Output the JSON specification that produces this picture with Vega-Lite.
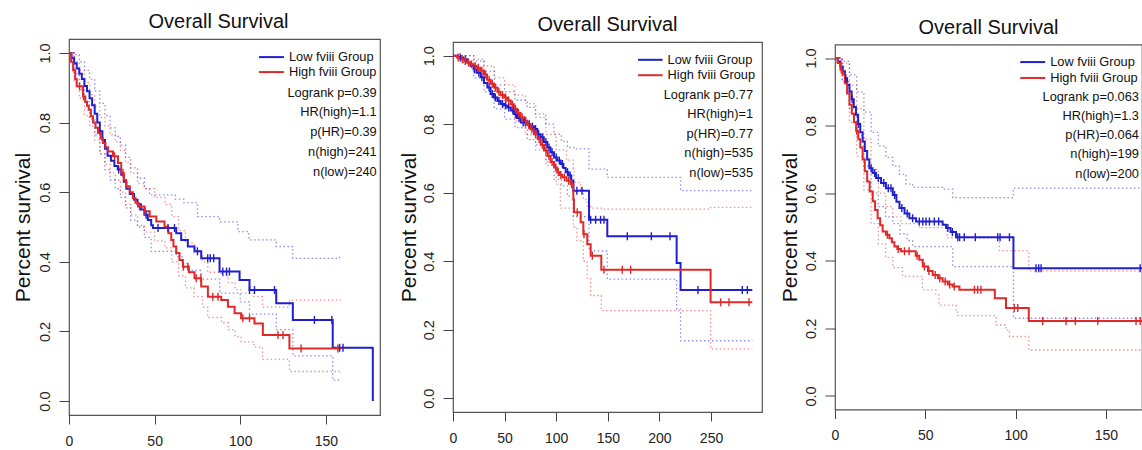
{
"$schema": "https://vega.github.io/schema/vega-lite/v6.json",
"background": "white",
"padding": {"left": 11, "top": 11, "right": 0, "bottom": 0},
"autosize": {"type": "pad"},
"datasets": {
"km": [
{"panel":"A","group":"Low","t":0,"s":1},{"panel":"A","group":"Low","t":1.5,"s":0.985},{"panel":"A","group":"Low","t":3,"s":0.97},{"panel":"A","group":"Low","t":4.5,"s":0.955},{"panel":"A","group":"Low","t":6,"s":0.94},{"panel":"A","group":"Low","t":7.5,"s":0.925},{"panel":"A","group":"Low","t":9,"s":0.905},{"panel":"A","group":"Low","t":10.5,"s":0.89},{"panel":"A","group":"Low","t":12,"s":0.87},{"panel":"A","group":"Low","t":13.5,"s":0.85},{"panel":"A","group":"Low","t":15,"s":0.825},{"panel":"A","group":"Low","t":16.5,"s":0.8},{"panel":"A","group":"Low","t":18,"s":0.775},{"panel":"A","group":"Low","t":19.5,"s":0.75},{"panel":"A","group":"Low","t":21,"s":0.725},{"panel":"A","group":"Low","t":22.5,"s":0.705},{"panel":"A","group":"Low","t":24.5,"s":0.69},{"panel":"A","group":"Low","t":26.5,"s":0.675},{"panel":"A","group":"Low","t":28.5,"s":0.665},{"panel":"A","group":"Low","t":30.5,"s":0.65},{"panel":"A","group":"Low","t":32,"s":0.63},{"panel":"A","group":"Low","t":33.5,"s":0.61},{"panel":"A","group":"Low","t":35.5,"s":0.595},{"panel":"A","group":"Low","t":38,"s":0.578},{"panel":"A","group":"Low","t":40,"s":0.565},{"panel":"A","group":"Low","t":42,"s":0.55},{"panel":"A","group":"Low","t":44,"s":0.535},{"panel":"A","group":"Low","t":46,"s":0.52},{"panel":"A","group":"Low","t":48,"s":0.505},{"panel":"A","group":"Low","t":49,"s":0.497},{"panel":"A","group":"Low","t":62.6,"s":0.482},{"panel":"A","group":"Low","t":65.5,"s":0.463},{"panel":"A","group":"Low","t":69.4,"s":0.444},{"panel":"A","group":"Low","t":73.3,"s":0.43},{"panel":"A","group":"Low","t":77.2,"s":0.41},{"panel":"A","group":"Low","t":87.9,"s":0.372},{"panel":"A","group":"Low","t":99.6,"s":0.348},{"panel":"A","group":"Low","t":105.4,"s":0.319},{"panel":"A","group":"Low","t":121,"s":0.281},{"panel":"A","group":"Low","t":130.7,"s":0.233},{"panel":"A","group":"Low","t":154,"s":0.153},{"panel":"A","group":"Low","t":177.4,"s":0},
{"panel":"A","group":"High","t":0,"s":1},{"panel":"A","group":"High","t":1.2,"s":0.975},{"panel":"A","group":"High","t":2.4,"s":0.95},{"panel":"A","group":"High","t":3.6,"s":0.925},{"panel":"A","group":"High","t":4.5,"s":0.904},{"panel":"A","group":"High","t":8.2,"s":0.875},{"panel":"A","group":"High","t":9.5,"s":0.86},{"panel":"A","group":"High","t":10.5,"s":0.848},{"panel":"A","group":"High","t":11.5,"s":0.837},{"panel":"A","group":"High","t":12.8,"s":0.818},{"panel":"A","group":"High","t":14,"s":0.8},{"panel":"A","group":"High","t":15.5,"s":0.785},{"panel":"A","group":"High","t":16.9,"s":0.77},{"panel":"A","group":"High","t":18.4,"s":0.755},{"panel":"A","group":"High","t":19.8,"s":0.741},{"panel":"A","group":"High","t":21.3,"s":0.729},{"panel":"A","group":"High","t":22.8,"s":0.717},{"panel":"A","group":"High","t":25.7,"s":0.703},{"panel":"A","group":"High","t":28.6,"s":0.684},{"panel":"A","group":"High","t":30.5,"s":0.655},{"panel":"A","group":"High","t":32,"s":0.635},{"panel":"A","group":"High","t":33.4,"s":0.617},{"panel":"A","group":"High","t":35.5,"s":0.6},{"panel":"A","group":"High","t":37.3,"s":0.583},{"panel":"A","group":"High","t":38.8,"s":0.57},{"panel":"A","group":"High","t":40.3,"s":0.559},{"panel":"A","group":"High","t":44.1,"s":0.545},{"panel":"A","group":"High","t":47.1,"s":0.53},{"panel":"A","group":"High","t":51,"s":0.516},{"panel":"A","group":"High","t":55.8,"s":0.501},{"panel":"A","group":"High","t":58,"s":0.482},{"panel":"A","group":"High","t":59.7,"s":0.463},{"panel":"A","group":"High","t":61,"s":0.444},{"panel":"A","group":"High","t":62.6,"s":0.425},{"panel":"A","group":"High","t":64.5,"s":0.405},{"panel":"A","group":"High","t":66.5,"s":0.386},{"panel":"A","group":"High","t":70,"s":0.37},{"panel":"A","group":"High","t":73.3,"s":0.353},{"panel":"A","group":"High","t":77.2,"s":0.329},{"panel":"A","group":"High","t":81.1,"s":0.3},{"panel":"A","group":"High","t":88.9,"s":0.29},{"panel":"A","group":"High","t":92.8,"s":0.271},{"panel":"A","group":"High","t":96.7,"s":0.252},{"panel":"A","group":"High","t":100.5,"s":0.238},{"panel":"A","group":"High","t":108.3,"s":0.223},{"panel":"A","group":"High","t":113.2,"s":0.19},{"panel":"A","group":"High","t":128.7,"s":0.151},{"panel":"A","group":"High","t":158.9,"s":0.151},
{"panel":"B","group":"Low","t":0,"s":1},{"panel":"B","group":"Low","t":5,"s":0.995},{"panel":"B","group":"Low","t":10,"s":0.99},{"panel":"B","group":"Low","t":14,"s":0.98},{"panel":"B","group":"Low","t":17,"s":0.97},{"panel":"B","group":"Low","t":20,"s":0.96},{"panel":"B","group":"Low","t":23,"s":0.95},{"panel":"B","group":"Low","t":26.8,"s":0.937},{"panel":"B","group":"Low","t":30,"s":0.92},{"panel":"B","group":"Low","t":33.3,"s":0.907},{"panel":"B","group":"Low","t":36.4,"s":0.888},{"panel":"B","group":"Low","t":39.7,"s":0.878},{"panel":"B","group":"Low","t":43,"s":0.868},{"panel":"B","group":"Low","t":46.2,"s":0.859},{"panel":"B","group":"Low","t":49.5,"s":0.855},{"panel":"B","group":"Low","t":52.6,"s":0.849},{"panel":"B","group":"Low","t":56,"s":0.84},{"panel":"B","group":"Low","t":59.1,"s":0.83},{"panel":"B","group":"Low","t":62,"s":0.818},{"panel":"B","group":"Low","t":65.6,"s":0.805},{"panel":"B","group":"Low","t":72,"s":0.8},{"panel":"B","group":"Low","t":75,"s":0.793},{"panel":"B","group":"Low","t":78.5,"s":0.786},{"panel":"B","group":"Low","t":81.7,"s":0.771},{"panel":"B","group":"Low","t":85,"s":0.762},{"panel":"B","group":"Low","t":88,"s":0.748},{"panel":"B","group":"Low","t":91.4,"s":0.732},{"panel":"B","group":"Low","t":94.5,"s":0.718},{"panel":"B","group":"Low","t":97.9,"s":0.703},{"panel":"B","group":"Low","t":101,"s":0.694},{"panel":"B","group":"Low","t":104.3,"s":0.684},{"panel":"B","group":"Low","t":107,"s":0.672},{"panel":"B","group":"Low","t":109.2,"s":0.66},{"panel":"B","group":"Low","t":112,"s":0.65},{"panel":"B","group":"Low","t":114.6,"s":0.635},{"panel":"B","group":"Low","t":116.6,"s":0.606},{"panel":"B","group":"Low","t":131.8,"s":0.521},{"panel":"B","group":"Low","t":149.5,"s":0.473},{"panel":"B","group":"Low","t":216.7,"s":0.395},{"panel":"B","group":"Low","t":220.5,"s":0.316},{"panel":"B","group":"Low","t":290,"s":0.316},
{"panel":"B","group":"High","t":0,"s":1},{"panel":"B","group":"High","t":4,"s":0.995},{"panel":"B","group":"High","t":8,"s":0.99},{"panel":"B","group":"High","t":11,"s":0.985},{"panel":"B","group":"High","t":13.9,"s":0.98},{"panel":"B","group":"High","t":17,"s":0.975},{"panel":"B","group":"High","t":20,"s":0.97},{"panel":"B","group":"High","t":23,"s":0.965},{"panel":"B","group":"High","t":26.7,"s":0.956},{"panel":"B","group":"High","t":30,"s":0.945},{"panel":"B","group":"High","t":33,"s":0.93},{"panel":"B","group":"High","t":36.5,"s":0.918},{"panel":"B","group":"High","t":39.7,"s":0.907},{"panel":"B","group":"High","t":43,"s":0.895},{"panel":"B","group":"High","t":46,"s":0.885},{"panel":"B","group":"High","t":49.5,"s":0.878},{"panel":"B","group":"High","t":52.6,"s":0.869},{"panel":"B","group":"High","t":56,"s":0.858},{"panel":"B","group":"High","t":59,"s":0.845},{"panel":"B","group":"High","t":62,"s":0.833},{"panel":"B","group":"High","t":65.5,"s":0.82},{"panel":"B","group":"High","t":69,"s":0.81},{"panel":"B","group":"High","t":72,"s":0.797},{"panel":"B","group":"High","t":75,"s":0.785},{"panel":"B","group":"High","t":78.5,"s":0.771},{"panel":"B","group":"High","t":82,"s":0.757},{"panel":"B","group":"High","t":85,"s":0.74},{"panel":"B","group":"High","t":88.2,"s":0.723},{"panel":"B","group":"High","t":91.5,"s":0.707},{"panel":"B","group":"High","t":94.5,"s":0.69},{"panel":"B","group":"High","t":97.9,"s":0.674},{"panel":"B","group":"High","t":101,"s":0.66},{"panel":"B","group":"High","t":103.5,"s":0.652},{"panel":"B","group":"High","t":105.9,"s":0.645},{"panel":"B","group":"High","t":110,"s":0.635},{"panel":"B","group":"High","t":114,"s":0.625},{"panel":"B","group":"High","t":116.6,"s":0.58},{"panel":"B","group":"High","t":117.2,"s":0.543},{"panel":"B","group":"High","t":123.7,"s":0.514},{"panel":"B","group":"High","t":126.3,"s":0.479},{"panel":"B","group":"High","t":130.1,"s":0.45},{"panel":"B","group":"High","t":133.4,"s":0.416},{"panel":"B","group":"High","t":143.7,"s":0.375},{"panel":"B","group":"High","t":249.6,"s":0.28},{"panel":"B","group":"High","t":290,"s":0.28},
{"panel":"C","group":"Low","t":0,"s":1},{"panel":"C","group":"Low","t":1.5,"s":0.99},{"panel":"C","group":"Low","t":3,"s":0.975},{"panel":"C","group":"Low","t":4.3,"s":0.961},{"panel":"C","group":"Low","t":5.5,"s":0.94},{"panel":"C","group":"Low","t":6.7,"s":0.92},{"panel":"C","group":"Low","t":8,"s":0.901},{"panel":"C","group":"Low","t":9.2,"s":0.878},{"panel":"C","group":"Low","t":10.4,"s":0.855},{"panel":"C","group":"Low","t":11.6,"s":0.832},{"panel":"C","group":"Low","t":12.8,"s":0.805},{"panel":"C","group":"Low","t":14,"s":0.78},{"panel":"C","group":"Low","t":15.3,"s":0.753},{"panel":"C","group":"Low","t":16.5,"s":0.725},{"panel":"C","group":"Low","t":17.8,"s":0.7},{"panel":"C","group":"Low","t":19,"s":0.674},{"panel":"C","group":"Low","t":20.8,"s":0.66},{"panel":"C","group":"Low","t":22.7,"s":0.645},{"panel":"C","group":"Low","t":25.5,"s":0.63},{"panel":"C","group":"Low","t":28.2,"s":0.615},{"panel":"C","group":"Low","t":32,"s":0.595},{"panel":"C","group":"Low","t":34,"s":0.575},{"panel":"C","group":"Low","t":35.7,"s":0.556},{"panel":"C","group":"Low","t":38.5,"s":0.54},{"panel":"C","group":"Low","t":41.2,"s":0.526},{"panel":"C","group":"Low","t":44.9,"s":0.516},{"panel":"C","group":"Low","t":59.6,"s":0.507},{"panel":"C","group":"Low","t":61.5,"s":0.497},{"panel":"C","group":"Low","t":64,"s":0.485},{"panel":"C","group":"Low","t":67,"s":0.47},{"panel":"C","group":"Low","t":98.8,"s":0.378},{"panel":"C","group":"Low","t":172,"s":0.378},
{"panel":"C","group":"High","t":0,"s":1},{"panel":"C","group":"High","t":1.5,"s":0.985},{"panel":"C","group":"High","t":3,"s":0.965},{"panel":"C","group":"High","t":4.3,"s":0.951},{"panel":"C","group":"High","t":5.5,"s":0.925},{"panel":"C","group":"High","t":6.7,"s":0.895},{"panel":"C","group":"High","t":8,"s":0.862},{"panel":"C","group":"High","t":9.3,"s":0.835},{"panel":"C","group":"High","t":10.5,"s":0.81},{"panel":"C","group":"High","t":11.7,"s":0.785},{"panel":"C","group":"High","t":12.9,"s":0.76},{"panel":"C","group":"High","t":14,"s":0.735},{"panel":"C","group":"High","t":15.3,"s":0.7},{"panel":"C","group":"High","t":16.5,"s":0.665},{"panel":"C","group":"High","t":17.8,"s":0.635},{"panel":"C","group":"High","t":19.2,"s":0.605},{"panel":"C","group":"High","t":20.9,"s":0.576},{"panel":"C","group":"High","t":22.2,"s":0.55},{"panel":"C","group":"High","t":23.6,"s":0.526},{"panel":"C","group":"High","t":25,"s":0.505},{"panel":"C","group":"High","t":26.4,"s":0.487},{"panel":"C","group":"High","t":28.2,"s":0.477},{"panel":"C","group":"High","t":30.1,"s":0.467},{"panel":"C","group":"High","t":31.5,"s":0.455},{"panel":"C","group":"High","t":32.9,"s":0.442},{"panel":"C","group":"High","t":34.5,"s":0.435},{"panel":"C","group":"High","t":36.5,"s":0.428},{"panel":"C","group":"High","t":44.7,"s":0.415},{"panel":"C","group":"High","t":46.7,"s":0.403},{"panel":"C","group":"High","t":48.6,"s":0.383},{"panel":"C","group":"High","t":51.5,"s":0.37},{"panel":"C","group":"High","t":54.1,"s":0.358},{"panel":"C","group":"High","t":57,"s":0.348},{"panel":"C","group":"High","t":59.6,"s":0.339},{"panel":"C","group":"High","t":62.5,"s":0.33},{"panel":"C","group":"High","t":65.2,"s":0.324},{"panel":"C","group":"High","t":68.9,"s":0.314},{"panel":"C","group":"High","t":88.5,"s":0.289},{"panel":"C","group":"High","t":94.7,"s":0.26},{"panel":"C","group":"High","t":107.3,"s":0.222},{"panel":"C","group":"High","t":172,"s":0.222}
],
"ci": [
{"panel":"A","group":"Low","bound":"upper","t":0,"s":1},{"panel":"A","group":"Low","bound":"upper","t":3,"s":0.995},{"panel":"A","group":"Low","bound":"upper","t":6,"s":0.975},{"panel":"A","group":"Low","bound":"upper","t":9,"s":0.95},{"panel":"A","group":"Low","bound":"upper","t":12,"s":0.925},{"panel":"A","group":"Low","bound":"upper","t":15,"s":0.89},{"panel":"A","group":"Low","bound":"upper","t":18,"s":0.855},{"panel":"A","group":"Low","bound":"upper","t":21,"s":0.82},{"panel":"A","group":"Low","bound":"upper","t":24,"s":0.785},{"panel":"A","group":"Low","bound":"upper","t":27,"s":0.76},{"panel":"A","group":"Low","bound":"upper","t":30,"s":0.735},{"panel":"A","group":"Low","bound":"upper","t":33,"s":0.7},{"panel":"A","group":"Low","bound":"upper","t":36,"s":0.67},{"panel":"A","group":"Low","bound":"upper","t":40,"s":0.64},{"panel":"A","group":"Low","bound":"upper","t":44,"s":0.61},{"panel":"A","group":"Low","bound":"upper","t":47,"s":0.592},{"panel":"A","group":"Low","bound":"upper","t":62,"s":0.58},{"panel":"A","group":"Low","bound":"upper","t":67,"s":0.57},{"panel":"A","group":"Low","bound":"upper","t":75,"s":0.53},{"panel":"A","group":"Low","bound":"upper","t":88,"s":0.515},{"panel":"A","group":"Low","bound":"upper","t":98.6,"s":0.487},{"panel":"A","group":"Low","bound":"upper","t":105,"s":0.463},{"panel":"A","group":"Low","bound":"upper","t":121,"s":0.444},{"panel":"A","group":"Low","bound":"upper","t":130.7,"s":0.41},{"panel":"A","group":"Low","bound":"upper","t":158,"s":0.415},
{"panel":"A","group":"Low","bound":"lower","t":0,"s":1},{"panel":"A","group":"Low","bound":"lower","t":3,"s":0.94},{"panel":"A","group":"Low","bound":"lower","t":6,"s":0.895},{"panel":"A","group":"Low","bound":"lower","t":9,"s":0.86},{"panel":"A","group":"Low","bound":"lower","t":12,"s":0.81},{"panel":"A","group":"Low","bound":"lower","t":15,"s":0.765},{"panel":"A","group":"Low","bound":"lower","t":18,"s":0.71},{"panel":"A","group":"Low","bound":"lower","t":21,"s":0.665},{"panel":"A","group":"Low","bound":"lower","t":24,"s":0.635},{"panel":"A","group":"Low","bound":"lower","t":27,"s":0.61},{"panel":"A","group":"Low","bound":"lower","t":30,"s":0.585},{"panel":"A","group":"Low","bound":"lower","t":33,"s":0.555},{"panel":"A","group":"Low","bound":"lower","t":36,"s":0.52},{"panel":"A","group":"Low","bound":"lower","t":40,"s":0.5},{"panel":"A","group":"Low","bound":"lower","t":44,"s":0.47},{"panel":"A","group":"Low","bound":"lower","t":48,"s":0.43},{"panel":"A","group":"Low","bound":"lower","t":62.6,"s":0.415},{"panel":"A","group":"Low","bound":"lower","t":66,"s":0.395},{"panel":"A","group":"Low","bound":"lower","t":70,"s":0.375},{"panel":"A","group":"Low","bound":"lower","t":77,"s":0.35},{"panel":"A","group":"Low","bound":"lower","t":88,"s":0.31},{"panel":"A","group":"Low","bound":"lower","t":100,"s":0.285},{"panel":"A","group":"Low","bound":"lower","t":105.4,"s":0.25},{"panel":"A","group":"Low","bound":"lower","t":121,"s":0.205},{"panel":"A","group":"Low","bound":"lower","t":130.7,"s":0.13},{"panel":"A","group":"Low","bound":"lower","t":154,"s":0.06},{"panel":"A","group":"Low","bound":"lower","t":158,"s":0.06},
{"panel":"A","group":"High","bound":"upper","t":0,"s":1},{"panel":"A","group":"High","bound":"upper","t":3,"s":0.975},{"panel":"A","group":"High","bound":"upper","t":6,"s":0.95},{"panel":"A","group":"High","bound":"upper","t":9,"s":0.915},{"panel":"A","group":"High","bound":"upper","t":12,"s":0.88},{"panel":"A","group":"High","bound":"upper","t":15,"s":0.845},{"panel":"A","group":"High","bound":"upper","t":18,"s":0.815},{"panel":"A","group":"High","bound":"upper","t":21,"s":0.79},{"panel":"A","group":"High","bound":"upper","t":24,"s":0.765},{"panel":"A","group":"High","bound":"upper","t":27,"s":0.745},{"panel":"A","group":"High","bound":"upper","t":30,"s":0.72},{"panel":"A","group":"High","bound":"upper","t":33,"s":0.685},{"panel":"A","group":"High","bound":"upper","t":36,"s":0.655},{"panel":"A","group":"High","bound":"upper","t":40,"s":0.625},{"panel":"A","group":"High","bound":"upper","t":44,"s":0.61},{"panel":"A","group":"High","bound":"upper","t":50,"s":0.585},{"panel":"A","group":"High","bound":"upper","t":56,"s":0.565},{"panel":"A","group":"High","bound":"upper","t":60,"s":0.53},{"panel":"A","group":"High","bound":"upper","t":64,"s":0.49},{"panel":"A","group":"High","bound":"upper","t":68,"s":0.455},{"panel":"A","group":"High","bound":"upper","t":73,"s":0.425},{"panel":"A","group":"High","bound":"upper","t":78,"s":0.4},{"panel":"A","group":"High","bound":"upper","t":81,"s":0.37},{"panel":"A","group":"High","bound":"upper","t":89,"s":0.36},{"panel":"A","group":"High","bound":"upper","t":93,"s":0.34},{"panel":"A","group":"High","bound":"upper","t":97,"s":0.32},{"panel":"A","group":"High","bound":"upper","t":100.5,"s":0.31},{"panel":"A","group":"High","bound":"upper","t":108,"s":0.3},{"panel":"A","group":"High","bound":"upper","t":113,"s":0.27},{"panel":"A","group":"High","bound":"upper","t":128.7,"s":0.29},{"panel":"A","group":"High","bound":"upper","t":158.9,"s":0.29},
{"panel":"A","group":"High","bound":"lower","t":0,"s":1},{"panel":"A","group":"High","bound":"lower","t":3,"s":0.915},{"panel":"A","group":"High","bound":"lower","t":6,"s":0.87},{"panel":"A","group":"High","bound":"lower","t":9,"s":0.82},{"panel":"A","group":"High","bound":"lower","t":12,"s":0.79},{"panel":"A","group":"High","bound":"lower","t":15,"s":0.75},{"panel":"A","group":"High","bound":"lower","t":18,"s":0.71},{"panel":"A","group":"High","bound":"lower","t":21,"s":0.68},{"panel":"A","group":"High","bound":"lower","t":24,"s":0.655},{"panel":"A","group":"High","bound":"lower","t":27,"s":0.635},{"panel":"A","group":"High","bound":"lower","t":30,"s":0.6},{"panel":"A","group":"High","bound":"lower","t":33,"s":0.565},{"panel":"A","group":"High","bound":"lower","t":36,"s":0.535},{"panel":"A","group":"High","bound":"lower","t":40,"s":0.505},{"panel":"A","group":"High","bound":"lower","t":44,"s":0.485},{"panel":"A","group":"High","bound":"lower","t":50,"s":0.46},{"panel":"A","group":"High","bound":"lower","t":56,"s":0.44},{"panel":"A","group":"High","bound":"lower","t":60,"s":0.4},{"panel":"A","group":"High","bound":"lower","t":64,"s":0.36},{"panel":"A","group":"High","bound":"lower","t":68,"s":0.325},{"panel":"A","group":"High","bound":"lower","t":73,"s":0.3},{"panel":"A","group":"High","bound":"lower","t":78,"s":0.27},{"panel":"A","group":"High","bound":"lower","t":81,"s":0.24},{"panel":"A","group":"High","bound":"lower","t":89,"s":0.225},{"panel":"A","group":"High","bound":"lower","t":93,"s":0.205},{"panel":"A","group":"High","bound":"lower","t":97,"s":0.185},{"panel":"A","group":"High","bound":"lower","t":100.5,"s":0.17},{"panel":"A","group":"High","bound":"lower","t":108,"s":0.155},{"panel":"A","group":"High","bound":"lower","t":113,"s":0.12},{"panel":"A","group":"High","bound":"lower","t":128.7,"s":0.085},{"panel":"A","group":"High","bound":"lower","t":158.9,"s":0.08},
{"panel":"B","group":"Low","bound":"upper","t":0,"s":1},{"panel":"B","group":"Low","bound":"upper","t":10,"s":1},{"panel":"B","group":"Low","bound":"upper","t":20,"s":0.985},{"panel":"B","group":"Low","bound":"upper","t":30,"s":0.955},{"panel":"B","group":"Low","bound":"upper","t":40,"s":0.915},{"panel":"B","group":"Low","bound":"upper","t":50,"s":0.895},{"panel":"B","group":"Low","bound":"upper","t":60,"s":0.87},{"panel":"B","group":"Low","bound":"upper","t":72,"s":0.849},{"panel":"B","group":"Low","bound":"upper","t":80,"s":0.83},{"panel":"B","group":"Low","bound":"upper","t":90,"s":0.8},{"panel":"B","group":"Low","bound":"upper","t":97.9,"s":0.771},{"panel":"B","group":"Low","bound":"upper","t":105,"s":0.75},{"panel":"B","group":"Low","bound":"upper","t":110.8,"s":0.732},{"panel":"B","group":"Low","bound":"upper","t":117,"s":0.728},{"panel":"B","group":"Low","bound":"upper","t":131.8,"s":0.669},{"panel":"B","group":"Low","bound":"upper","t":149.5,"s":0.645},{"panel":"B","group":"Low","bound":"upper","t":216.7,"s":0.645},{"panel":"B","group":"Low","bound":"upper","t":220.5,"s":0.606},{"panel":"B","group":"Low","bound":"upper","t":290,"s":0.606},
{"panel":"B","group":"Low","bound":"lower","t":0,"s":1},{"panel":"B","group":"Low","bound":"lower","t":10,"s":0.975},{"panel":"B","group":"Low","bound":"lower","t":20,"s":0.935},{"panel":"B","group":"Low","bound":"lower","t":30,"s":0.895},{"panel":"B","group":"Low","bound":"lower","t":40,"s":0.845},{"panel":"B","group":"Low","bound":"lower","t":50,"s":0.815},{"panel":"B","group":"Low","bound":"lower","t":60,"s":0.79},{"panel":"B","group":"Low","bound":"lower","t":72,"s":0.755},{"panel":"B","group":"Low","bound":"lower","t":80,"s":0.74},{"panel":"B","group":"Low","bound":"lower","t":90,"s":0.69},{"panel":"B","group":"Low","bound":"lower","t":97.9,"s":0.64},{"panel":"B","group":"Low","bound":"lower","t":105,"s":0.62},{"panel":"B","group":"Low","bound":"lower","t":110.8,"s":0.59},{"panel":"B","group":"Low","bound":"lower","t":116.6,"s":0.53},{"panel":"B","group":"Low","bound":"lower","t":131.8,"s":0.43},{"panel":"B","group":"Low","bound":"lower","t":149.5,"s":0.348},{"panel":"B","group":"Low","bound":"lower","t":216.7,"s":0.26},{"panel":"B","group":"Low","bound":"lower","t":220.5,"s":0.168},{"panel":"B","group":"Low","bound":"lower","t":290,"s":0.168},
{"panel":"B","group":"High","bound":"upper","t":0,"s":1},{"panel":"B","group":"High","bound":"upper","t":10,"s":1},{"panel":"B","group":"High","bound":"upper","t":20,"s":0.99},{"panel":"B","group":"High","bound":"upper","t":30,"s":0.97},{"panel":"B","group":"High","bound":"upper","t":40,"s":0.935},{"panel":"B","group":"High","bound":"upper","t":50,"s":0.915},{"panel":"B","group":"High","bound":"upper","t":60,"s":0.885},{"panel":"B","group":"High","bound":"upper","t":70,"s":0.86},{"panel":"B","group":"High","bound":"upper","t":80,"s":0.82},{"panel":"B","group":"High","bound":"upper","t":90,"s":0.77},{"panel":"B","group":"High","bound":"upper","t":100,"s":0.725},{"panel":"B","group":"High","bound":"upper","t":110,"s":0.695},{"panel":"B","group":"High","bound":"upper","t":116.6,"s":0.67},{"panel":"B","group":"High","bound":"upper","t":117.2,"s":0.63},{"panel":"B","group":"High","bound":"upper","t":123.7,"s":0.61},{"panel":"B","group":"High","bound":"upper","t":126.3,"s":0.58},{"panel":"B","group":"High","bound":"upper","t":130.1,"s":0.56},{"panel":"B","group":"High","bound":"upper","t":133.4,"s":0.555},{"panel":"B","group":"High","bound":"upper","t":143.7,"s":0.552},{"panel":"B","group":"High","bound":"upper","t":249.6,"s":0.557},{"panel":"B","group":"High","bound":"upper","t":290,"s":0.557},
{"panel":"B","group":"High","bound":"lower","t":0,"s":1},{"panel":"B","group":"High","bound":"lower","t":10,"s":0.98},{"panel":"B","group":"High","bound":"lower","t":20,"s":0.95},{"panel":"B","group":"High","bound":"lower","t":30,"s":0.925},{"panel":"B","group":"High","bound":"lower","t":40,"s":0.88},{"panel":"B","group":"High","bound":"lower","t":50,"s":0.85},{"panel":"B","group":"High","bound":"lower","t":60,"s":0.81},{"panel":"B","group":"High","bound":"lower","t":70,"s":0.77},{"panel":"B","group":"High","bound":"lower","t":80,"s":0.725},{"panel":"B","group":"High","bound":"lower","t":90,"s":0.68},{"panel":"B","group":"High","bound":"lower","t":100,"s":0.625},{"panel":"B","group":"High","bound":"lower","t":104,"s":0.555},{"panel":"B","group":"High","bound":"lower","t":116.6,"s":0.5},{"panel":"B","group":"High","bound":"lower","t":120,"s":0.46},{"panel":"B","group":"High","bound":"lower","t":126.3,"s":0.4},{"panel":"B","group":"High","bound":"lower","t":130.1,"s":0.35},{"panel":"B","group":"High","bound":"lower","t":133.4,"s":0.3},{"panel":"B","group":"High","bound":"lower","t":143.7,"s":0.256},{"panel":"B","group":"High","bound":"lower","t":249.6,"s":0.144},{"panel":"B","group":"High","bound":"lower","t":290,"s":0.144},
{"panel":"C","group":"Low","bound":"upper","t":0,"s":1},{"panel":"C","group":"Low","bound":"upper","t":4,"s":0.99},{"panel":"C","group":"Low","bound":"upper","t":8,"s":0.95},{"panel":"C","group":"Low","bound":"upper","t":12,"s":0.9},{"panel":"C","group":"Low","bound":"upper","t":16,"s":0.84},{"panel":"C","group":"Low","bound":"upper","t":20,"s":0.78},{"panel":"C","group":"Low","bound":"upper","t":24,"s":0.74},{"panel":"C","group":"Low","bound":"upper","t":28.2,"s":0.706},{"panel":"C","group":"Low","bound":"upper","t":32,"s":0.68},{"panel":"C","group":"Low","bound":"upper","t":35.6,"s":0.656},{"panel":"C","group":"Low","bound":"upper","t":39.3,"s":0.627},{"panel":"C","group":"Low","bound":"upper","t":43,"s":0.617},{"panel":"C","group":"Low","bound":"upper","t":59.6,"s":0.612},{"panel":"C","group":"Low","bound":"upper","t":65.2,"s":0.587},{"panel":"C","group":"Low","bound":"upper","t":98.8,"s":0.615},{"panel":"C","group":"Low","bound":"upper","t":172,"s":0.615},
{"panel":"C","group":"Low","bound":"lower","t":0,"s":1},{"panel":"C","group":"Low","bound":"lower","t":4,"s":0.93},{"panel":"C","group":"Low","bound":"lower","t":8,"s":0.85},{"panel":"C","group":"Low","bound":"lower","t":12,"s":0.77},{"panel":"C","group":"Low","bound":"lower","t":16,"s":0.68},{"panel":"C","group":"Low","bound":"lower","t":20,"s":0.6},{"panel":"C","group":"Low","bound":"lower","t":24,"s":0.56},{"panel":"C","group":"Low","bound":"lower","t":28,"s":0.53},{"panel":"C","group":"Low","bound":"lower","t":32,"s":0.51},{"panel":"C","group":"Low","bound":"lower","t":36,"s":0.48},{"panel":"C","group":"Low","bound":"lower","t":40,"s":0.46},{"panel":"C","group":"Low","bound":"lower","t":43,"s":0.442},{"panel":"C","group":"Low","bound":"lower","t":65.2,"s":0.383},{"panel":"C","group":"Low","bound":"lower","t":98.8,"s":0.23},{"panel":"C","group":"Low","bound":"lower","t":172,"s":0.23},
{"panel":"C","group":"High","bound":"upper","t":0,"s":1},{"panel":"C","group":"High","bound":"upper","t":4,"s":0.985},{"panel":"C","group":"High","bound":"upper","t":8,"s":0.92},{"panel":"C","group":"High","bound":"upper","t":12,"s":0.85},{"panel":"C","group":"High","bound":"upper","t":16,"s":0.76},{"panel":"C","group":"High","bound":"upper","t":20,"s":0.67},{"panel":"C","group":"High","bound":"upper","t":24,"s":0.6},{"panel":"C","group":"High","bound":"upper","t":28,"s":0.56},{"panel":"C","group":"High","bound":"upper","t":32,"s":0.53},{"panel":"C","group":"High","bound":"upper","t":36.5,"s":0.51},{"panel":"C","group":"High","bound":"upper","t":46.7,"s":0.498},{"panel":"C","group":"High","bound":"upper","t":62,"s":0.468},{"panel":"C","group":"High","bound":"upper","t":91,"s":0.43},{"panel":"C","group":"High","bound":"upper","t":107.3,"s":0.37},{"panel":"C","group":"High","bound":"upper","t":172,"s":0.37},
{"panel":"C","group":"High","bound":"lower","t":0,"s":1},{"panel":"C","group":"High","bound":"lower","t":4,"s":0.93},{"panel":"C","group":"High","bound":"lower","t":8,"s":0.81},{"panel":"C","group":"High","bound":"lower","t":12,"s":0.71},{"panel":"C","group":"High","bound":"lower","t":16,"s":0.61},{"panel":"C","group":"High","bound":"lower","t":20,"s":0.51},{"panel":"C","group":"High","bound":"lower","t":24,"s":0.45},{"panel":"C","group":"High","bound":"lower","t":28,"s":0.41},{"panel":"C","group":"High","bound":"lower","t":32,"s":0.38},{"panel":"C","group":"High","bound":"lower","t":37.4,"s":0.354},{"panel":"C","group":"High","bound":"lower","t":48.4,"s":0.314},{"panel":"C","group":"High","bound":"lower","t":55.8,"s":0.299},{"panel":"C","group":"High","bound":"lower","t":57.6,"s":0.269},{"panel":"C","group":"High","bound":"lower","t":67,"s":0.255},{"panel":"C","group":"High","bound":"lower","t":67.8,"s":0.238},{"panel":"C","group":"High","bound":"lower","t":89.2,"s":0.21},{"panel":"C","group":"High","bound":"lower","t":94.7,"s":0.195},{"panel":"C","group":"High","bound":"lower","t":96.6,"s":0.176},{"panel":"C","group":"High","bound":"lower","t":107.3,"s":0.136},{"panel":"C","group":"High","bound":"lower","t":172,"s":0.136}
],
"cens": [
{"panel":"A","group":"Low","t":29,"s":0.665},{"panel":"A","group":"Low","t":45,"s":0.535},{"panel":"A","group":"Low","t":52,"s":0.497},{"panel":"A","group":"Low","t":57.8,"s":0.497},{"panel":"A","group":"Low","t":61.6,"s":0.497},{"panel":"A","group":"Low","t":75,"s":0.43},{"panel":"A","group":"Low","t":81,"s":0.41},{"panel":"A","group":"Low","t":82.5,"s":0.41},{"panel":"A","group":"Low","t":84.5,"s":0.41},{"panel":"A","group":"Low","t":89.8,"s":0.372},{"panel":"A","group":"Low","t":92,"s":0.372},{"panel":"A","group":"Low","t":93.7,"s":0.372},{"panel":"A","group":"Low","t":105.4,"s":0.319},{"panel":"A","group":"Low","t":108.3,"s":0.319},{"panel":"A","group":"Low","t":120,"s":0.319},{"panel":"A","group":"Low","t":143.3,"s":0.233},{"panel":"A","group":"Low","t":153.5,"s":0.233},{"panel":"A","group":"Low","t":158,"s":0.153},{"panel":"A","group":"Low","t":160,"s":0.153},
{"panel":"A","group":"High","t":6.2,"s":0.904},{"panel":"A","group":"High","t":8.5,"s":0.875},{"panel":"A","group":"High","t":26.6,"s":0.703},{"panel":"A","group":"High","t":31.5,"s":0.655},{"panel":"A","group":"High","t":41.2,"s":0.559},{"panel":"A","group":"High","t":44.5,"s":0.545},{"panel":"A","group":"High","t":66.8,"s":0.386},{"panel":"A","group":"High","t":69.4,"s":0.386},{"panel":"A","group":"High","t":74.3,"s":0.353},{"panel":"A","group":"High","t":77,"s":0.353},{"panel":"A","group":"High","t":84,"s":0.3},{"panel":"A","group":"High","t":87,"s":0.3},{"panel":"A","group":"High","t":101.5,"s":0.238},{"panel":"A","group":"High","t":105.4,"s":0.238},{"panel":"A","group":"High","t":122,"s":0.19},{"panel":"A","group":"High","t":125,"s":0.19},{"panel":"A","group":"High","t":135.5,"s":0.151},{"panel":"A","group":"High","t":157,"s":0.151},
{"panel":"B","group":"Low","t":7,"s":0.995},{"panel":"B","group":"Low","t":12,"s":0.99},{"panel":"B","group":"Low","t":21,"s":0.96},{"panel":"B","group":"Low","t":25,"s":0.95},{"panel":"B","group":"Low","t":28,"s":0.937},{"panel":"B","group":"Low","t":35,"s":0.907},{"panel":"B","group":"Low","t":38,"s":0.888},{"panel":"B","group":"Low","t":41,"s":0.878},{"panel":"B","group":"Low","t":44.5,"s":0.868},{"panel":"B","group":"Low","t":48,"s":0.859},{"panel":"B","group":"Low","t":51,"s":0.855},{"panel":"B","group":"Low","t":54,"s":0.849},{"panel":"B","group":"Low","t":58,"s":0.84},{"panel":"B","group":"Low","t":60.5,"s":0.83},{"panel":"B","group":"Low","t":64,"s":0.818},{"panel":"B","group":"Low","t":68,"s":0.805},{"panel":"B","group":"Low","t":70,"s":0.805},{"panel":"B","group":"Low","t":74,"s":0.8},{"panel":"B","group":"Low","t":77,"s":0.793},{"panel":"B","group":"Low","t":80,"s":0.786},{"panel":"B","group":"Low","t":83,"s":0.771},{"panel":"B","group":"Low","t":87,"s":0.762},{"panel":"B","group":"Low","t":90,"s":0.748},{"panel":"B","group":"Low","t":93,"s":0.732},{"panel":"B","group":"Low","t":96,"s":0.718},{"panel":"B","group":"Low","t":100,"s":0.703},{"panel":"B","group":"Low","t":103,"s":0.694},{"panel":"B","group":"Low","t":106,"s":0.684},{"panel":"B","group":"Low","t":111,"s":0.66},{"panel":"B","group":"Low","t":113.5,"s":0.65},{"panel":"B","group":"Low","t":120,"s":0.606},{"panel":"B","group":"Low","t":125,"s":0.606},{"panel":"B","group":"Low","t":133.4,"s":0.521},{"panel":"B","group":"Low","t":138.2,"s":0.521},{"panel":"B","group":"Low","t":143,"s":0.521},{"panel":"B","group":"Low","t":146.3,"s":0.521},{"panel":"B","group":"Low","t":168.9,"s":0.473},{"panel":"B","group":"Low","t":192.2,"s":0.473},{"panel":"B","group":"Low","t":210.3,"s":0.473},{"panel":"B","group":"Low","t":237.4,"s":0.316},{"panel":"B","group":"Low","t":280.3,"s":0.316},{"panel":"B","group":"Low","t":285.2,"s":0.316},
{"panel":"B","group":"High","t":5,"s":0.995},{"panel":"B","group":"High","t":9,"s":0.99},{"panel":"B","group":"High","t":12,"s":0.985},{"panel":"B","group":"High","t":15,"s":0.98},{"panel":"B","group":"High","t":18,"s":0.975},{"panel":"B","group":"High","t":21.5,"s":0.97},{"panel":"B","group":"High","t":24.5,"s":0.965},{"panel":"B","group":"High","t":28,"s":0.956},{"panel":"B","group":"High","t":31.5,"s":0.945},{"panel":"B","group":"High","t":35,"s":0.93},{"panel":"B","group":"High","t":38,"s":0.918},{"panel":"B","group":"High","t":41,"s":0.907},{"panel":"B","group":"High","t":44.5,"s":0.895},{"panel":"B","group":"High","t":48,"s":0.885},{"panel":"B","group":"High","t":51,"s":0.878},{"panel":"B","group":"High","t":54,"s":0.869},{"panel":"B","group":"High","t":57.5,"s":0.858},{"panel":"B","group":"High","t":60.5,"s":0.845},{"panel":"B","group":"High","t":63.5,"s":0.833},{"panel":"B","group":"High","t":67,"s":0.82},{"panel":"B","group":"High","t":70.5,"s":0.81},{"panel":"B","group":"High","t":73.5,"s":0.797},{"panel":"B","group":"High","t":76.5,"s":0.785},{"panel":"B","group":"High","t":80,"s":0.771},{"panel":"B","group":"High","t":83.5,"s":0.757},{"panel":"B","group":"High","t":86.5,"s":0.74},{"panel":"B","group":"High","t":90,"s":0.723},{"panel":"B","group":"High","t":93,"s":0.707},{"panel":"B","group":"High","t":96,"s":0.69},{"panel":"B","group":"High","t":99.5,"s":0.674},{"panel":"B","group":"High","t":102,"s":0.66},{"panel":"B","group":"High","t":104.5,"s":0.652},{"panel":"B","group":"High","t":108,"s":0.645},{"panel":"B","group":"High","t":112,"s":0.635},{"panel":"B","group":"High","t":115,"s":0.625},{"panel":"B","group":"High","t":120.4,"s":0.543},{"panel":"B","group":"High","t":126.9,"s":0.479},{"panel":"B","group":"High","t":135,"s":0.416},{"panel":"B","group":"High","t":146.3,"s":0.375},{"panel":"B","group":"High","t":164,"s":0.375},{"panel":"B","group":"High","t":172.1,"s":0.375},{"panel":"B","group":"High","t":259.3,"s":0.28},{"panel":"B","group":"High","t":267.4,"s":0.28},{"panel":"B","group":"High","t":286.8,"s":0.28},
{"panel":"C","group":"Low","t":6,"s":0.94},{"panel":"C","group":"Low","t":9.5,"s":0.878},{"panel":"C","group":"Low","t":13,"s":0.805},{"panel":"C","group":"Low","t":20,"s":0.674},{"panel":"C","group":"Low","t":22,"s":0.66},{"panel":"C","group":"Low","t":24,"s":0.645},{"panel":"C","group":"Low","t":27,"s":0.63},{"panel":"C","group":"Low","t":29.5,"s":0.615},{"panel":"C","group":"Low","t":31,"s":0.615},{"panel":"C","group":"Low","t":33,"s":0.595},{"panel":"C","group":"Low","t":37,"s":0.556},{"panel":"C","group":"Low","t":40,"s":0.54},{"panel":"C","group":"Low","t":43,"s":0.526},{"panel":"C","group":"Low","t":46.7,"s":0.516},{"panel":"C","group":"Low","t":48.6,"s":0.516},{"panel":"C","group":"Low","t":50.4,"s":0.516},{"panel":"C","group":"Low","t":52.3,"s":0.516},{"panel":"C","group":"Low","t":55,"s":0.516},{"panel":"C","group":"Low","t":57.4,"s":0.516},{"panel":"C","group":"Low","t":62.5,"s":0.497},{"panel":"C","group":"Low","t":65,"s":0.485},{"panel":"C","group":"Low","t":68,"s":0.47},{"panel":"C","group":"Low","t":69,"s":0.47},{"panel":"C","group":"Low","t":71.6,"s":0.47},{"panel":"C","group":"Low","t":77.7,"s":0.47},{"panel":"C","group":"Low","t":90.1,"s":0.47},{"panel":"C","group":"Low","t":91.4,"s":0.47},{"panel":"C","group":"Low","t":96.6,"s":0.47},{"panel":"C","group":"Low","t":111.3,"s":0.378},{"panel":"C","group":"Low","t":112.8,"s":0.378},{"panel":"C","group":"Low","t":114.1,"s":0.378},{"panel":"C","group":"Low","t":169,"s":0.378},
{"panel":"C","group":"High","t":3.5,"s":0.965},{"panel":"C","group":"High","t":12,"s":0.785},{"panel":"C","group":"High","t":29,"s":0.477},{"panel":"C","group":"High","t":35,"s":0.435},{"panel":"C","group":"High","t":38.5,"s":0.428},{"panel":"C","group":"High","t":41,"s":0.428},{"panel":"C","group":"High","t":45.5,"s":0.415},{"panel":"C","group":"High","t":49.5,"s":0.383},{"panel":"C","group":"High","t":52,"s":0.37},{"panel":"C","group":"High","t":55.5,"s":0.358},{"panel":"C","group":"High","t":58,"s":0.348},{"panel":"C","group":"High","t":61,"s":0.339},{"panel":"C","group":"High","t":63.5,"s":0.33},{"panel":"C","group":"High","t":66,"s":0.324},{"panel":"C","group":"High","t":77.2,"s":0.314},{"panel":"C","group":"High","t":79,"s":0.314},{"panel":"C","group":"High","t":80.8,"s":0.314},{"panel":"C","group":"High","t":99.3,"s":0.26},{"panel":"C","group":"High","t":101.2,"s":0.26},{"panel":"C","group":"High","t":115,"s":0.222},{"panel":"C","group":"High","t":127.9,"s":0.222},{"panel":"C","group":"High","t":133.1,"s":0.222},{"panel":"C","group":"High","t":145.5,"s":0.222},{"panel":"C","group":"High","t":166.7,"s":0.222},{"panel":"C","group":"High","t":169,"s":0.222}
],
"key": [
{"panel":"A","group":"Low","label":"Low fviii Group","t":110.9,"t2":125.5,"s":0.988},
{"panel":"A","group":"High","label":"High fviii Group","t":110.9,"t2":125.5,"s":0.945},
{"panel":"B","group":"Low","label":"Low fviii Group","t":179.3,"t2":203.1,"s":0.988},
{"panel":"B","group":"High","label":"High fviii Group","t":179.3,"t2":203.1,"s":0.943},
{"panel":"C","group":"Low","label":"Low fviii Group","t":102.6,"t2":116.4,"s":0.988},
{"panel":"C","group":"High","label":"High fviii Group","t":102.6,"t2":116.4,"s":0.941}
],
"stats": [
{"panel":"A","label":"Logrank p=0.39","t":179.7,"s":0.886},{"panel":"A","label":"HR(high)=1.1","t":179.7,"s":0.829},{"panel":"A","label":"p(HR)=0.39","t":179.7,"s":0.772},{"panel":"A","label":"n(high)=241","t":179.7,"s":0.715},{"panel":"A","label":"n(low)=240","t":179.7,"s":0.658},
{"panel":"B","label":"Logrank p=0.77","t":290.7,"s":0.886},{"panel":"B","label":"HR(high)=1","t":290.7,"s":0.829},{"panel":"B","label":"p(HR)=0.77","t":290.7,"s":0.772},{"panel":"B","label":"n(high)=535","t":290.7,"s":0.715},{"panel":"B","label":"n(low)=535","t":290.7,"s":0.658},
{"panel":"C","label":"Logrank p=0.063","t":168.3,"s":0.886},{"panel":"C","label":"HR(high)=1.3","t":168.3,"s":0.829},{"panel":"C","label":"p(HR)=0.064","t":168.3,"s":0.772},{"panel":"C","label":"n(high)=199","t":168.3,"s":0.715},{"panel":"C","label":"n(low)=200","t":168.3,"s":0.658}
]
},
"hconcat": [
{
"width": 311, "height": 376,
"title": {"text": "Overall Survival", "dx": -6},
"encoding": {
"x": {"field": "t", "type": "quantitative", "scale": {"domain": [0, 181.6], "nice": false, "zero": false}, "axis": {"values": [0, 50, 100, 150], "title": null}},
"y": {"field": "s", "type": "quantitative", "scale": {"domain": [-0.04, 1.04], "nice": false, "zero": false}, "axis": {"values": [0, 0.2, 0.4, 0.6, 0.8, 1], "format": ".1f", "title": "Percent survival", "titleX": -46}}
},
"layer": [
{"data": {"name": "ci"}, "transform": [{"filter": "datum.panel === 'A'"}], "mark": {"type": "line", "interpolate": "step-after", "strokeDash": [1.5, 2.5], "strokeWidth": 1.3, "opacity": 0.5, "clip": true}, "encoding": {"color": {"field": "group", "type": "nominal", "scale": {"domain": ["Low", "High"], "range": ["#1f1fcf", "#e12828"]}, "legend": null}, "detail": {"field": "bound"}}},
{"data": {"name": "km"}, "transform": [{"filter": "datum.panel === 'A'"}], "mark": {"type": "line", "interpolate": "step-after", "strokeWidth": 2, "clip": true}, "encoding": {"color": {"field": "group", "type": "nominal", "legend": null}}},
{"data": {"name": "cens"}, "transform": [{"filter": "datum.panel === 'A'"}], "mark": {"type": "point", "shape": "M0,-1L0,1", "size": 64, "filled": false, "strokeWidth": 1.4, "opacity": 1, "clip": true}, "encoding": {"color": {"field": "group", "type": "nominal", "legend": null}}},
{"data": {"name": "key"}, "transform": [{"filter": "datum.panel === 'A'"}], "mark": {"type": "rule", "strokeWidth": 2}, "encoding": {"x2": {"field": "t2"}, "color": {"field": "group", "type": "nominal", "legend": null}}},
{"data": {"name": "key"}, "transform": [{"filter": "datum.panel === 'A'"}], "mark": {"type": "text", "align": "left", "baseline": "middle", "dx": 5, "font": "Liberation Sans", "fontSize": 12.8, "color": "#111", "clip": true}, "encoding": {"x": {"field": "t2", "type": "quantitative"}, "text": {"field": "label"}}},
{"data": {"name": "stats"}, "transform": [{"filter": "datum.panel === 'A'"}], "mark": {"type": "text", "align": "right", "baseline": "middle", "font": "Liberation Sans", "fontSize": 12.8, "color": "#111", "clip": true}, "encoding": {"text": {"field": "label"}}}
]
},
{
"width": 309, "height": 370,
"title": {"text": "Overall Survival"},
"encoding": {
"x": {"field": "t", "type": "quantitative", "scale": {"domain": [0, 299.4], "nice": false, "zero": false}, "axis": {"values": [0, 50, 100, 150, 200, 250], "title": null}},
"y": {"field": "s", "type": "quantitative", "scale": {"domain": [-0.04, 1.04], "nice": false, "zero": false}, "axis": {"values": [0, 0.2, 0.4, 0.6, 0.8, 1], "format": ".1f", "title": "Percent survival", "titleX": -44}}
},
"layer": [
{"data": {"name": "ci"}, "transform": [{"filter": "datum.panel === 'B'"}], "mark": {"type": "line", "interpolate": "step-after", "strokeDash": [1.5, 2.5], "strokeWidth": 1.3, "opacity": 0.5, "clip": true}, "encoding": {"color": {"field": "group", "type": "nominal", "scale": {"domain": ["Low", "High"], "range": ["#1f1fcf", "#e12828"]}, "legend": null}, "detail": {"field": "bound"}}},
{"data": {"name": "km"}, "transform": [{"filter": "datum.panel === 'B'"}], "mark": {"type": "line", "interpolate": "step-after", "strokeWidth": 2, "clip": true}, "encoding": {"color": {"field": "group", "type": "nominal", "legend": null}}},
{"data": {"name": "cens"}, "transform": [{"filter": "datum.panel === 'B'"}], "mark": {"type": "point", "shape": "M0,-1L0,1", "size": 64, "filled": false, "strokeWidth": 1.4, "opacity": 1, "clip": true}, "encoding": {"color": {"field": "group", "type": "nominal", "legend": null}}},
{"data": {"name": "key"}, "transform": [{"filter": "datum.panel === 'B'"}], "mark": {"type": "rule", "strokeWidth": 2}, "encoding": {"x2": {"field": "t2"}, "color": {"field": "group", "type": "nominal", "legend": null}}},
{"data": {"name": "key"}, "transform": [{"filter": "datum.panel === 'B'"}], "mark": {"type": "text", "align": "left", "baseline": "middle", "dx": 5, "font": "Liberation Sans", "fontSize": 12.8, "color": "#111", "clip": true}, "encoding": {"x": {"field": "t2", "type": "quantitative"}, "text": {"field": "label"}}},
{"data": {"name": "stats"}, "transform": [{"filter": "datum.panel === 'B'"}], "mark": {"type": "text", "align": "right", "baseline": "middle", "font": "Liberation Sans", "fontSize": 12.8, "color": "#111", "clip": true}, "encoding": {"text": {"field": "label"}}}
]
},
{
"width": 307, "height": 365,
"title": {"text": "Overall Survival"},
"encoding": {
"x": {"field": "t", "type": "quantitative", "scale": {"domain": [0, 170], "nice": false, "zero": false}, "axis": {"values": [0, 50, 100, 150], "title": null}},
"y": {"field": "s", "type": "quantitative", "scale": {"domain": [-0.04, 1.04], "nice": false, "zero": false}, "axis": {"values": [0, 0.2, 0.4, 0.6, 0.8, 1], "format": ".1f", "title": "Percent survival", "titleX": -44.5}}
},
"layer": [
{"data": {"name": "ci"}, "transform": [{"filter": "datum.panel === 'C'"}], "mark": {"type": "line", "interpolate": "step-after", "strokeDash": [1.5, 2.5], "strokeWidth": 1.3, "opacity": 0.5, "clip": true}, "encoding": {"color": {"field": "group", "type": "nominal", "scale": {"domain": ["Low", "High"], "range": ["#1f1fcf", "#e12828"]}, "legend": null}, "detail": {"field": "bound"}}},
{"data": {"name": "km"}, "transform": [{"filter": "datum.panel === 'C'"}], "mark": {"type": "line", "interpolate": "step-after", "strokeWidth": 2, "clip": true}, "encoding": {"color": {"field": "group", "type": "nominal", "legend": null}}},
{"data": {"name": "cens"}, "transform": [{"filter": "datum.panel === 'C'"}], "mark": {"type": "point", "shape": "M0,-1L0,1", "size": 64, "filled": false, "strokeWidth": 1.4, "opacity": 1, "clip": true}, "encoding": {"color": {"field": "group", "type": "nominal", "legend": null}}},
{"data": {"name": "key"}, "transform": [{"filter": "datum.panel === 'C'"}], "mark": {"type": "rule", "strokeWidth": 2}, "encoding": {"x2": {"field": "t2"}, "color": {"field": "group", "type": "nominal", "legend": null}}},
{"data": {"name": "key"}, "transform": [{"filter": "datum.panel === 'C'"}], "mark": {"type": "text", "align": "left", "baseline": "middle", "dx": 5, "font": "Liberation Sans", "fontSize": 12.8, "color": "#111", "clip": true}, "encoding": {"x": {"field": "t2", "type": "quantitative"}, "text": {"field": "label"}}},
{"data": {"name": "stats"}, "transform": [{"filter": "datum.panel === 'C'"}], "mark": {"type": "text", "align": "right", "baseline": "middle", "font": "Liberation Sans", "fontSize": 12.8, "color": "#111", "clip": true}, "encoding": {"text": {"field": "label"}}}
]
}
],
"spacing": 73,
"bounds": "flush",
"center": true,
"config": {
"view": {"stroke": "#555", "strokeWidth": 1.2},
"font": "Liberation Sans",
"axis": {"grid": false, "domain": false, "tickColor": "#444", "labelColor": "#222", "titleColor": "#111", "labelOverlap": false, "labelFlush": false},
"axisX": {"tickSize": 9, "labelFont": "Liberation Sans", "labelFontSize": 14, "labelBaseline": "alphabetic", "labelPadding": 21},
"axisY": {"tickSize": 10, "labelAngle": -90, "labelAlign": "center", "labelBaseline": "alphabetic", "labelPadding": 10, "labelFont": "Liberation Sans", "labelFontSize": 14.5, "titleFont": "Liberation Sans", "titleFontSize": 21, "titleFontWeight": "normal", "titleBaseline": "middle", "titleAngle": -90},
"title": {"font": "Liberation Sans", "fontSize": 20, "fontWeight": "normal", "color": "#111", "offset": 7, "baseline": "alphabetic", "anchor": "middle"}
}
}
